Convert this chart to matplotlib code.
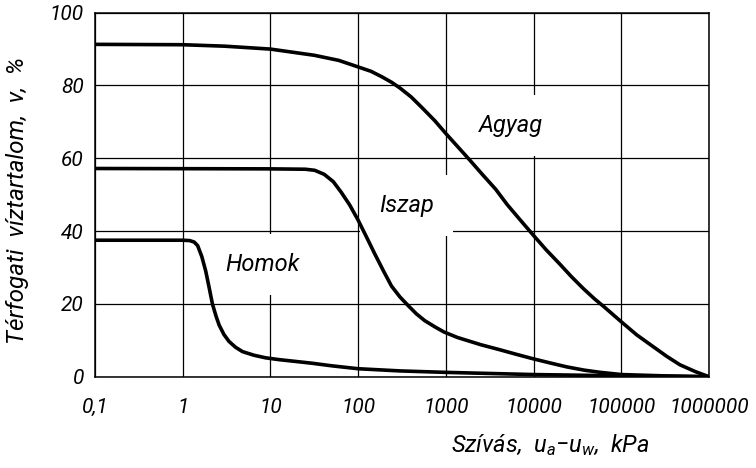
import matplotlib
matplotlib.use("Agg")
import matplotlib.pyplot as plt

# soil-water characteristic curves (suction in kPa, volumetric water content in %)
homok_x = [0.1, 1.0, 1.2, 1.35, 1.48, 1.65, 1.83, 2.0, 2.18, 2.4, 2.6, 2.95,
           3.37, 4.0, 4.8, 6.5, 8.8, 12.5, 17.8, 30, 50, 100, 300, 1000,
           10000, 100000, 1000000]
homok_y = [37.5, 37.5, 37.4, 37.0, 36.0, 33.0, 29.0, 24.5, 20.0, 16.6, 14.2,
           11.6, 9.7, 8.1, 6.9, 5.9, 5.2, 4.7, 4.3, 3.7, 3.0, 2.2, 1.6, 1.2,
           0.6, 0.25, 0.0]

iszap_x = [0.1, 10, 25, 32, 41, 52, 64, 80, 100, 125, 155, 195, 240, 300,
           370, 460, 575, 750, 950, 1350, 2500, 4000, 6500, 10000, 16000,
           24000, 38000, 58000, 100000, 300000, 1000000]
iszap_y = [57.2, 57.1, 57.0, 56.7, 55.6, 53.6, 50.7, 47.2, 43.0, 38.3, 33.7,
           29.0, 24.9, 21.9, 19.6, 17.3, 15.4, 13.7, 12.3, 10.8, 8.8, 7.5,
           6.1, 4.9, 3.7, 2.7, 1.8, 1.2, 0.6, 0.25, 0.0]

agyag_x = [0.1, 1, 3, 10, 31.6, 60, 100, 140, 186, 240, 300, 400, 525, 750,
           1000, 1400, 1860, 2600, 3700, 5000, 6800, 10000, 14000, 20000,
           27000, 37000, 50000, 63000, 100000, 150000, 230000, 330000,
           465000, 700000, 1000000]
agyag_y = [91.3, 91.2, 90.8, 90.0, 88.3, 86.9, 85.1, 83.9, 82.4, 80.9, 79.3,
           76.9, 74.1, 70.3, 66.8, 62.9, 59.6, 55.6, 51.5, 47.3, 43.5, 38.8,
           34.8, 30.9, 27.5, 24.2, 21.3, 19.3, 15.1, 11.5, 8.3, 5.6, 3.3,
           1.4, 0.0]

x_ticks = [0.1, 1, 10, 100, 1000, 10000, 100000, 1000000]
x_tick_labels = ["0,1", "1", "10", "100", "1000", "10000", "100000", "1000000"]
y_ticks = [0, 20, 40, 60, 80, 100]

curve_labels = [("Agyag", 5500, 69.0), ("Iszap", 355, 47.1), ("Homok", 8.2, 30.9)]

plt.rcParams["font.family"] = ["Roboto", "DejaVu Sans"]
plt.rcParams["font.style"] = "italic"
plt.rcParams["font.weight"] = "normal"
plt.rcParams["axes.labelweight"] = "normal"
plt.rcParams["mathtext.fontset"] = "custom"
plt.rcParams["mathtext.it"] = "Roboto:italic"
plt.rcParams["mathtext.rm"] = "Roboto:italic"

fig = plt.figure(figsize=(7.56, 4.68), dpi=100)
ax = fig.add_axes([0.1257, 0.195, 0.8121, 0.7779])

for xs, ys in [(agyag_x, agyag_y), (iszap_x, iszap_y), (homok_x, homok_y)]:
    ax.plot(xs, ys, color="black", linewidth=2.6, solid_capstyle="round",
            solid_joinstyle="round", zorder=4)

for name, lx, ly in curve_labels:
    ax.text(lx, ly, name, fontsize=17, ha="center", va="center", zorder=3,
            bbox=dict(boxstyle="square,pad=0.8", facecolor="white",
                      edgecolor="none"))

ax.set_xscale("log")
ax.set_xlim(0.1, 1000000)
ax.set_ylim(0, 100)
ax.set_xticks(x_ticks)
ax.set_xticklabels(x_tick_labels)
ax.minorticks_off()
ax.set_yticks(y_ticks)
ax.tick_params(length=0, labelsize=15)
ax.tick_params(axis="x", pad=15)
ax.tick_params(axis="y", pad=8)

ax.grid(True, color="black", linewidth=0.9, zorder=1)
ax.set_axisbelow(True)
for sp in ax.spines.values():
    sp.set_linewidth(1.1)

ax.set_ylabel("Térfogati  víztartalom,  v,  %", fontsize=17.5)
ax.yaxis.set_label_coords(-0.108, 0.485)
fig.text(0.728, 0.048, r"Szívás,  u$_a$$-$u$_w$,  kPa", fontsize=17,
         ha="center", va="center")

fig.savefig("out.png", dpi=100)
